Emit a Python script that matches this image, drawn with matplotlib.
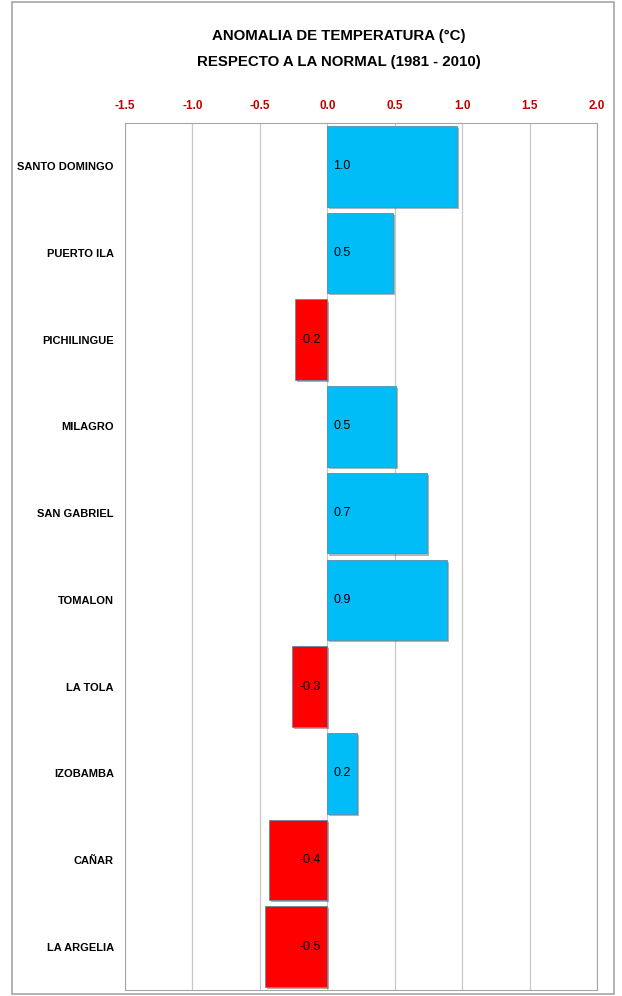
import numpy as np
import matplotlib.pyplot as plt
from matplotlib.patches import Rectangle
import matplotlib.patheffects as pe

plt.rcParams['font.family'] = ['Liberation Sans', 'DejaVu Sans']

STATIONS = ["SANTO DOMINGO", "PUERTO ILA", "PICHILINGUE", "MILAGRO", "SAN GABRIEL",
            "TOMALON", "LA TOLA", "IZOBAMBA", "CAÑAR", "LA ARGELIA"]
ANOMALY = [0.96, 0.49, -0.24, 0.51, 0.74, 0.89, -0.26, 0.22, -0.43, -0.46]
LABELS = ["1.0", "0.5", "-0.2", "0.5", "0.7", "0.9", "-0.3", "0.2", "-0.4", "-0.5"]
TICKS = [-1.5, -1.0, -0.5, 0.0, 0.5, 1.0, 1.5, 2.0]

BLUE = "#00BDF8"
RED = "#FF0000"

fig = plt.figure(figsize=(6.22, 9.96), dpi=100)
ax = fig.add_axes([125/622, 6/996, 472/622, 867/996])

# outer frame of the chart
fig.patches.append(Rectangle((12/622, 2/996), 602/622, 992/996, transform=fig.transFigure,
                             fill=False, edgecolor="#A6A6A6", linewidth=1.2))

y = np.arange(len(STATIONS))
colors = [BLUE if v >= 0 else RED for v in ANOMALY]
bars = ax.barh(y, ANOMALY, height=0.93, color=colors, edgecolor="#5a8fa8", linewidth=0.6, zorder=3)
for b in bars:
    b.set_path_effects([pe.SimplePatchShadow(offset=(1.5, -1.5), alpha=0.35), pe.Normal()])

for yi, v, lab in zip(y, ANOMALY, LABELS):
    if v >= 0:
        ax.text(0.045, yi, lab, ha="left", va="center", fontsize=9, zorder=4)
    else:
        ax.text(-0.05, yi, lab, ha="right", va="center", fontsize=9, zorder=4)

ax.set_xlim(-1.5, 2.0)
ax.set_ylim(len(STATIONS) - 0.5, -0.5)
ax.set_xticks(TICKS)
ax.set_xticklabels([f"{t:.1f}" for t in TICKS], color="#C00000", fontsize=8.5, fontweight="bold")
ax.xaxis.tick_top()
ax.tick_params(axis="x", length=0, pad=8)
ax.set_yticks(y)
ax.set_yticklabels(STATIONS, fontsize=8, fontweight="bold")
ax.tick_params(axis="y", length=0, pad=8)
ax.grid(axis="x", color="#C8C8C8", linewidth=0.9, zorder=0)
for s in ax.spines.values():
    s.set_color("#A6A6A6")

fig.text(339/622, 1 - 36/996, "ANOMALIA DE TEMPERATURA (°C)", ha="center", va="center",
         fontsize=10.8, fontweight="bold")
fig.text(339/622, 1 - 62/996, "RESPECTO A LA NORMAL (1981 - 2010)", ha="center", va="center",
         fontsize=10.8, fontweight="bold")

fig.savefig("out.png", dpi=100)
